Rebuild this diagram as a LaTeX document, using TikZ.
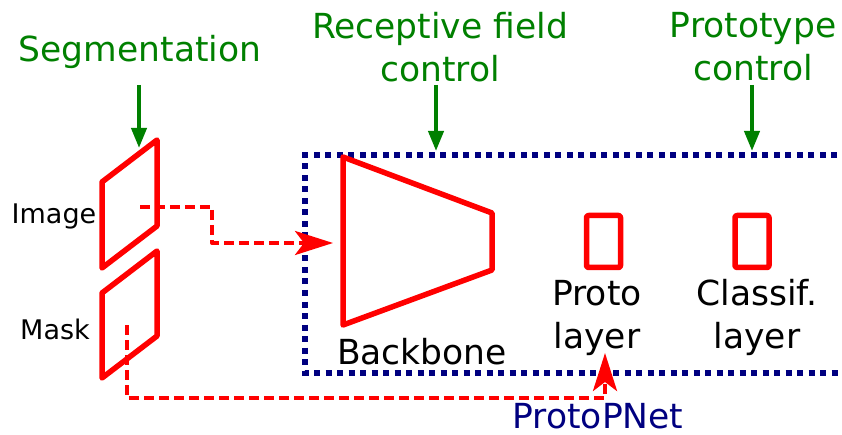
\documentclass[tikz,border=0pt]{standalone}
\usepackage{fontspec}
\setmainfont{DejaVu Sans}
\usetikzlibrary{arrows.meta}

\definecolor{ctrlgreen}{RGB}{0,128,0}
\definecolor{netblue}{RGB}{0,0,128}

\newcommand\bigtxt{\fontsize{34.5}{43}\selectfont}
\newcommand\smalltxt{\fontsize{27}{32}\selectfont}

\begin{document}
\begin{tikzpicture}[x=1pt, y=-1pt,
    ctrl/.style={ctrlgreen, line width=4pt, -{Triangle[length=20pt, width=15pt]}},
    flow/.style={red, line width=4pt, dash pattern=on 10pt off 5pt, line join=round,
      -{Stealth[length=38pt, width=24pt, inset=9pt]}},
    part/.style={red, line width=5.5pt, line join=round},
    label/.style={inner sep=0pt, anchor=base, align=center}]
        \useasboundingbox (0,0) rectangle (842,435);

        % Control labels on top (base = last line)
        \node[label, ctrlgreen, font=\bigtxt] (seg) at (140,62) {Segmentation};
        \node[label, ctrlgreen, font=\bigtxt] (rfc) at (440,82) {Receptive field\\control};
        \node[label, ctrlgreen, font=\bigtxt] (ptc) at (753,81) {Prototype\\control};

        % The network box (runs off to the right)
        \draw[netblue, line width=6pt, dash pattern=on 6pt off 5.5pt]
          (860,155) -- (305,155) -- (305,373) -- (860,373);

        % Inputs: image and mask planes
        \draw[part] (102,182) -- (157,140) -- (157,226) -- (102,268) -- cycle;
        \draw[part] (102,293) -- (157,251) -- (157,336) -- (102,378) -- cycle;
        \node[label, font=\smalltxt] (img) at (54,224) {Image};
        \node[label, font=\smalltxt] (mask) at (55,339) {Mask};

        % Backbone
        \draw[part] (343,157) -- (492,213) -- (492,270) -- (343,325) -- cycle;
        \node[label, font=\bigtxt] (bb) at (422,364) {Backbone};

        % Prototype and classification layers
        \node[part, draw, rounded corners=2pt, minimum width=34pt, minimum height=52pt,
          inner sep=0pt] (proto) at (603.5,241.5) {};
        \node[part, draw, rounded corners=2pt, minimum width=34pt, minimum height=52pt,
          inner sep=0pt] (cls) at (752,241.5) {};
        \node[label, font=\bigtxt] (protolbl) at (597,348) {Proto\\layer};
        \node[label, font=\bigtxt] (clslbl) at (757,348) {Classif.\\layer};
        \node[label, netblue, font=\bigtxt] (ppn) at (598,428) {ProtoPNet};

        % Arrow ends
        \coordinate (segend) at (139,85);
        \coordinate (imgtop) at (139,148);
        \coordinate (rfcend) at (436,85);
        \coordinate (rfctop) at (436,151);
        \coordinate (ptcend) at (752,85);
        \coordinate (ptctop) at (752,151);
        \coordinate (imgc) at (140,207);
        \coordinate (imgbend) at (212,207);
        \coordinate (bbin) at (333,243);
        \coordinate (maskc) at (127,325);
        \coordinate (maskbend) at (605,398);
        \coordinate (protoin) at (605,353);

        % Control arrows
        \draw[ctrl] (segend) -- (imgtop);
        \draw[ctrl] (rfcend) -- (rfctop);
        \draw[ctrl] (ptcend) -- (ptctop);

        % Data flow
        \draw[flow] (imgc) -- (imgbend) |- (bbin);
        \draw[flow] (maskc) |- (maskbend) -- (protoin);
      \end{tikzpicture}
\end{document}
